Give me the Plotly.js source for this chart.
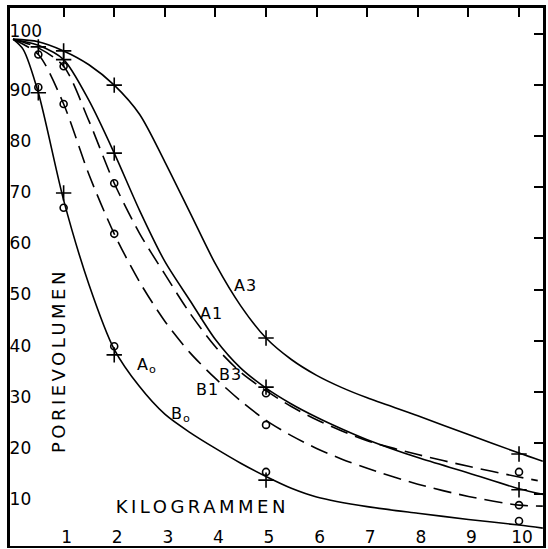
<!DOCTYPE html>
<html>
<head>
<meta charset="utf-8">
<script src="https://cdn.plot.ly/plotly-3.0.1.min.js"></script>
<style>
html,body{margin:0;padding:0;background:#fff;}
#chart{width:548px;height:549px;}
.annotation .annotation-text{letter-spacing:1px;}
.annotation[data-index="6"] .annotation-text,
.annotation[data-index="7"] .annotation-text{letter-spacing:3.5px;}
</style>
</head>
<body>
<div id="chart"></div>
<script>
// Tick values
const xTicks = [1, 2, 3, 4, 5, 6, 7, 8, 9, 10];
const yTicks = [10, 20, 30, 40, 50, 60, 70, 80, 90, 100];

// Curves
const a3X = [0, 0.5, 1, 1.5, 2, 2.5, 3, 3.5, 4, 4.5, 5, 5.5, 6, 6.5, 7, 8, 9, 10, 10.47];
const a3Y = [99, 98.5, 96.7, 94, 90, 84.3, 75, 65, 55, 46.8, 40.5, 36.3, 33.2, 30.8, 28.8, 25.3, 21.6, 18.0, 16.4];

const a1X = [0, 0.5, 1, 1.5, 2, 2.5, 3, 3.5, 4, 4.5, 5, 5.5, 6, 6.5, 7, 8, 9, 10, 10.47];
const a1Y = [99, 97.8, 95, 87, 76.7, 65.5, 55.5, 47.8, 40.2, 34.6, 30.7, 27.6, 25.0, 22.7, 20.6, 17.1, 14.1, 11.0, 9.9];

const b3X = [0, 0.5, 1, 1.5, 2, 2.5, 3, 3.5, 4, 4.5, 5, 5.5, 6, 6.5, 7, 8, 9, 10, 10.37];
const b3Y = [99, 97.3, 93.7, 83, 70.8, 61, 53, 45.3, 38.8, 33.8, 30.2, 27.1, 24.5, 22.3, 20.4, 17.7, 15.4, 13.3, 12.6];

const b1X = [0, 0.5, 1, 1.5, 2, 2.5, 3, 3.5, 4, 4.5, 5, 5.5, 6, 6.5, 7, 8, 9, 10, 10.47];
const b1Y = [99, 96, 86.3, 72.5, 60.9, 51.5, 43.8, 37.6, 32.6, 28.2, 24.4, 21.4, 18.9, 16.8, 15.0, 11.9, 9.5, 7.8, 7.6];

const b0X = [0, 0.2, 0.5, 1, 1.5, 2, 2.5, 3, 3.5, 4, 4.5, 5, 5.5, 6, 7, 8, 9, 10, 10.47];
const b0Y = [99, 97, 88.5, 67.5, 51, 38.3, 31, 25.6, 22.0, 18.9, 16.0, 13.4, 11.1, 9.4, 7.5, 6.2, 5.0, 3.9, 3.3];

// Measured points (markers)
const a3PtX = [1, 2, 5, 10];
const a3PtY = [96.7, 90, 40.5, 17.8];
const a1PtX = [0.5, 1, 2, 5, 10];
const a1PtY = [97.5, 95, 76.7, 30.9, 10.8];
const b3PtX = [1, 2, 5, 10];
const b3PtY = [93.7, 70.8, 29.7, 14.3];
const b1PtX = [0.5, 1, 2, 5, 10];
const b1PtY = [96, 86.3, 60.9, 23.5, 7.8];
const a0PtX = [0.5, 1, 2, 5];
const a0PtY = [88.5, 68.9, 37.2, 12.7];
const b0PtX = [0.5, 1, 2, 5, 10];
const b0PtY = [89.6, 66, 38.9, 14.3, 4.7];

// Curve labels
const labelText = ['A3', 'A1', 'B3', 'B1', 'A<sub>o</sub>', 'B<sub>o</sub>'];
const labelX = [4.6, 3.93, 4.29, 3.85, 2.65, 3.32];
const labelY = [50.7, 45.4, 33.4, 30.5, 35.2, 25.6];

const FONT = 'DejaVu Sans, Liberation Sans, sans-serif';
const solid = {color: '#000', width: 1.6, shape: 'spline', smoothing: 0.8};
const dashed = {color: '#000', width: 1.6, shape: 'spline', smoothing: 0.8, dash: '18px,8px'};

function lineTrace(x, y, line) {
  return {x: x, y: y, mode: 'lines', line: line, hoverinfo: 'skip', showlegend: false};
}
function markTrace(x, y, sym) {
  const isCross = sym === 'cross-thin-open';
  return {x: x, y: y, mode: 'markers', hoverinfo: 'skip', showlegend: false,
    marker: {symbol: sym, size: isCross ? 11 : 7, color: '#000',
             line: {color: '#000', width: 1.6}}};
}

const data = [
  lineTrace(a3X, a3Y, solid),
  lineTrace(a1X, a1Y, solid),
  lineTrace(b3X, b3Y, dashed),
  lineTrace(b1X, b1Y, dashed),
  lineTrace(b0X, b0Y, solid),
  markTrace(a3PtX, a3PtY, 'cross-thin-open'),
  markTrace(a1PtX, a1PtY, 'cross-thin-open'),
  markTrace(a0PtX, a0PtY, 'cross-thin-open'),
  markTrace(b3PtX, b3PtY, 'circle-open'),
  markTrace(b1PtX, b1PtY, 'circle-open'),
  markTrace(b0PtX, b0PtY, 'circle-open'),
  {x: [], y: [], xaxis: 'x2', yaxis: 'y2', mode: 'markers', showlegend: false, hoverinfo: 'skip'}
];

const xr = [-0.06, 10.474];
const yr = [-0.2, 105.1];
// the hand-lettered "100" sits a little higher than its tick
const yLabelVals = yTicks.map(v => v === 100 ? v + 1.6 : v);

const annotations = labelText.map((t, i) => ({
  x: labelX[i], y: labelY[i], xref: 'x', yref: 'y', text: t, showarrow: false,
  font: {family: FONT, size: 16, color: '#000'}
}));
annotations.push({x: 3.74, y: 7.6, xref: 'x', yref: 'y', text: 'KILOGRAMMEN', showarrow: false,
  font: {family: FONT, size: 18, color: '#000'}});
annotations.push({x: 0.89, y: 36, xref: 'x', yref: 'y', text: 'PORIEVOLUMEN', showarrow: false,
  textangle: -90, font: {family: FONT, size: 18, color: '#000'}});

const layout = {
  width: 548, height: 549,
  margin: {l: 10, r: 5, t: 8, b: 3, pad: 0},
  paper_bgcolor: '#fff', plot_bgcolor: '#fff',
  showlegend: false,
  font: {family: FONT, color: '#000'},
  xaxis: {range: xr, showgrid: false, zeroline: false, showline: true, linecolor: '#000', linewidth: 2,
    ticks: '', tickvals: xTicks, ticktext: xTicks.map(String), ticklabelposition: 'inside',
    ticklabelshift: 3, tickfont: {family: FONT, size: 17, color: '#000'}, fixedrange: true},
  xaxis2: {range: xr, overlaying: 'x', side: 'top', anchor: 'y', showgrid: false, zeroline: false,
    showline: true, linecolor: '#000', linewidth: 3, ticks: 'inside', ticklen: 9, tickwidth: 2,
    tickcolor: '#000', tickvals: xTicks, showticklabels: false, fixedrange: true},
  yaxis: {range: yr, showgrid: false, zeroline: false, showline: true, linecolor: '#000', linewidth: 3,
    ticks: '', tickvals: yLabelVals, ticktext: yTicks.map(String), ticklabelposition: 'inside',
    ticklabelshift: 5, tickfont: {family: FONT, size: 17, color: '#000'}, fixedrange: true},
  yaxis2: {range: yr, overlaying: 'y', side: 'right', anchor: 'x', showgrid: false, zeroline: false,
    showline: true, linecolor: '#000', linewidth: 2.5, ticks: 'inside', ticklen: 9, tickwidth: 2,
    tickcolor: '#000', tickvals: yTicks, showticklabels: false, fixedrange: true},
  annotations: annotations
};

Plotly.newPlot('chart', data, layout, {displayModeBar: false, staticPlot: true});
</script>
</body>
</html>
